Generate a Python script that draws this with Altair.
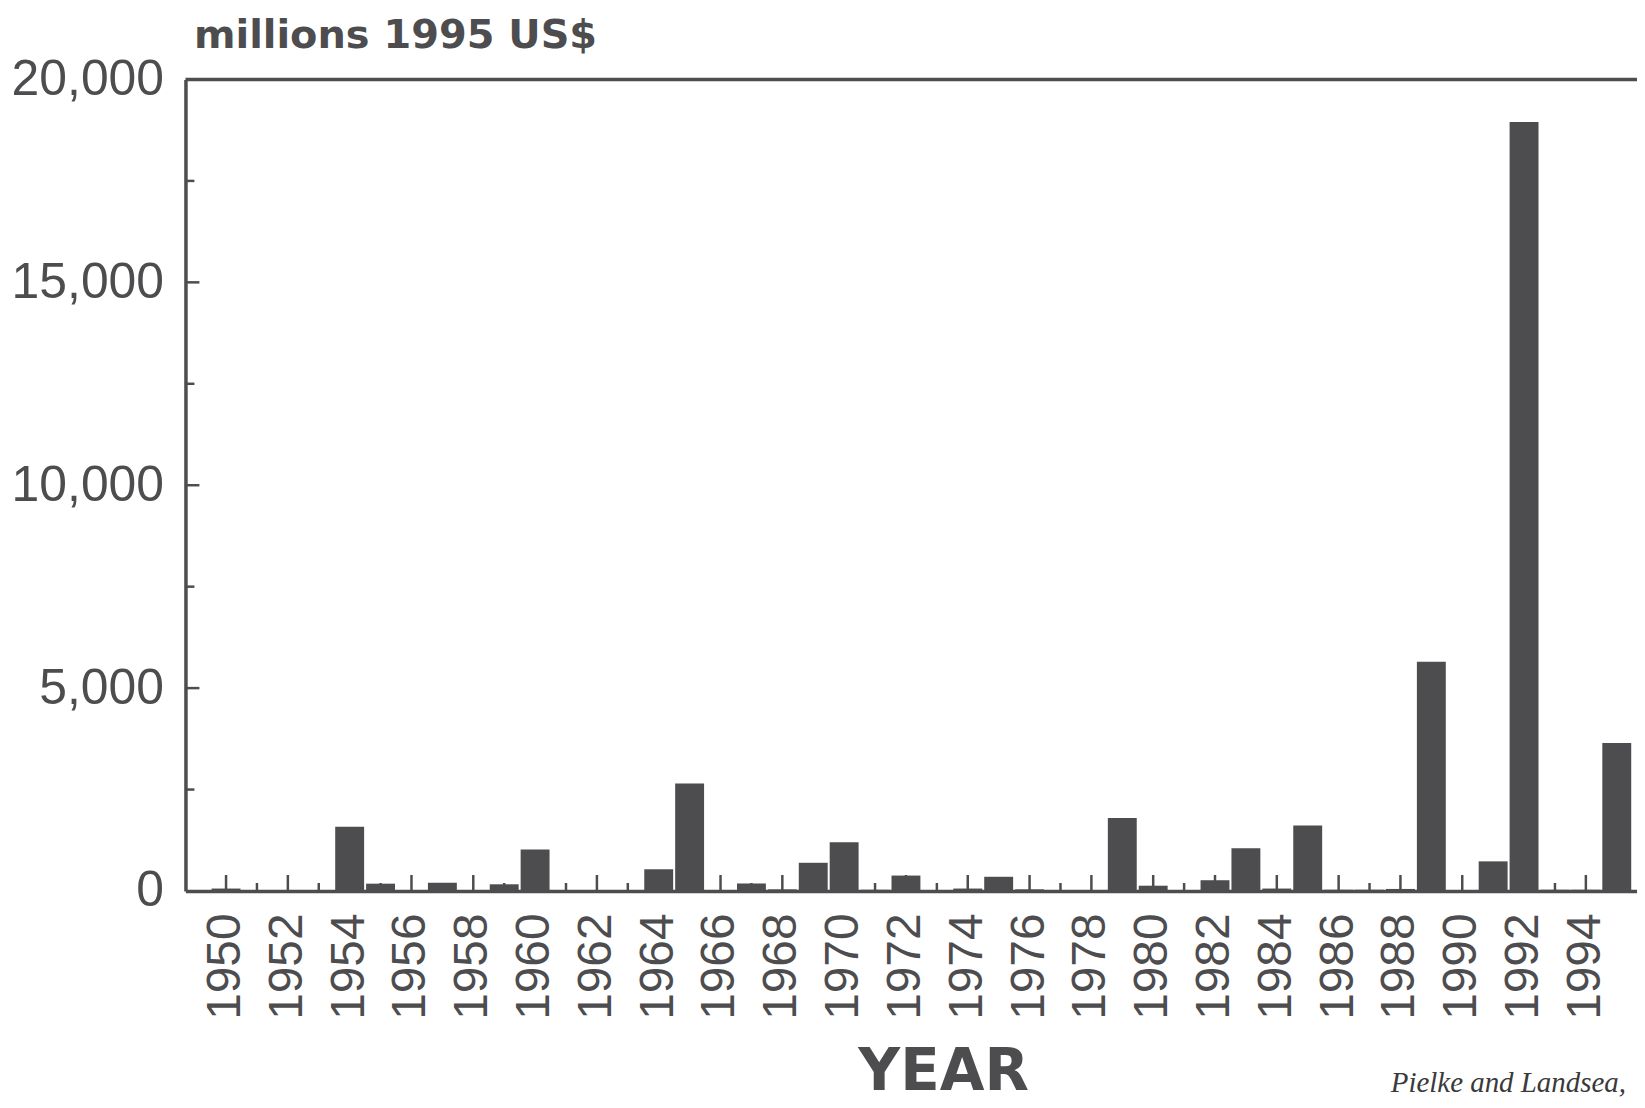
import altair as alt
import pandas as pd

# ---------------- data ----------------
years = list(range(1950, 1996))
damages = [
    60, 10, 10, 10, 1580, 180, 10, 205, 20, 165,        # 1950-1959
    1020, 10, 10, 10, 535, 2650, 20, 185, 40, 695,      # 1960-1969
    1200, 30, 380, 20, 60, 350, 40, 20, 10, 1800,       # 1970-1979
    130, 20, 265, 1050, 60, 1615, 30, 30, 50, 5650,     # 1980-1989
    20, 730, 18950, 30, 30, 3650,                       # 1990-1995
]
y_labels = [0, 5000, 10000, 15000, 20000]
y_major_ticks = [5000, 10000, 15000]
y_minor_ticks = [2500, 7500, 12500, 17500]
x_major_ticks = [y for y in years if y % 2 == 0]
x_minor_ticks = [y for y in years if y % 2 == 1]
y_title = "millions 1995 US$"
x_title = "YEAR"
note = "Pielke and Landsea,"

df = pd.DataFrame({"year": years, "damage": damages})

# ---------------- styling ----------------
W, H = 1456, 814
INK = "#4d4d4f"
FONT = "Liberation Sans"
HEAVY = "DejaVu Sans"

xscale = alt.Scale(domain=years, paddingInner=0.0645, paddingOuter=0.5163,
                   align=0.819, round=False)
yscale = alt.Scale(domain=[0, 20000], nice=False, zero=True)

bars = alt.Chart(df).mark_bar(color=INK).encode(
    x=alt.X("year:O", scale=xscale, axis=alt.Axis(
        title=x_title, titleFont=HEAVY, titleFontSize=58, titleFontWeight="bold",
        titleColor=INK, titleX=760, titleY=199, titleAlign="center",
        titleBaseline="alphabetic", titleAngle=0,
        labelAngle=-90, labelFont=FONT, labelFontSize=48, labelColor=INK,
        labelPadding=22, labelOverlap=False,
        labelExpr="datum.value % 2 == 0 ? datum.label : ''",
        ticks=False, domainColor=INK, domainWidth=3.5, grid=False)),
    y=alt.Y("damage:Q", scale=yscale, axis=alt.Axis(
        values=y_labels, format=",d",
        title=y_title, titleFont=HEAVY, titleFontSize=40, titleFontWeight="bold",
        titleColor=INK, titleAngle=0, titleX=8, titleY=-32, titleAlign="left",
        titleBaseline="alphabetic",
        labelFont=FONT, labelFontSize=50, labelColor=INK, labelPadding=22,
        ticks=False, domainColor=INK, domainWidth=3.5, grid=False)),
)

xt_major = alt.Chart(pd.DataFrame({"year": x_major_ticks})).mark_rule(
    color=INK, strokeWidth=2.5).encode(
    x=alt.X("year:O", scale=xscale), y=alt.value(H), y2=alt.value(H - 16))
xt_minor = alt.Chart(pd.DataFrame({"year": x_minor_ticks})).mark_rule(
    color=INK, strokeWidth=2.5).encode(
    x=alt.X("year:O", scale=xscale), y=alt.value(H), y2=alt.value(H - 8))

yt_major = alt.Chart(pd.DataFrame({"damage": y_major_ticks})).mark_rule(
    color=INK, strokeWidth=2.5).encode(
    y=alt.Y("damage:Q", scale=yscale), x=alt.value(0), x2=alt.value(14))
yt_minor = alt.Chart(pd.DataFrame({"damage": y_minor_ticks})).mark_rule(
    color=INK, strokeWidth=2.5).encode(
    y=alt.Y("damage:Q", scale=yscale), x=alt.value(0), x2=alt.value(9))

top_line = alt.Chart(pd.DataFrame({"damage": [y_labels[-1]]})).mark_rule(
    color=INK, strokeWidth=3.5).encode(y=alt.Y("damage:Q", scale=yscale))

note_layer = alt.Chart(pd.DataFrame({"note": [note]})).mark_text(
    font="Liberation Serif", fontStyle="italic", fontSize=29, color="#3a3a3a",
    align="left", baseline="alphabetic").encode(
    x=alt.value(1209), y=alt.value(1016), text="note:N")

chart = alt.layer(xt_major, xt_minor, yt_major, yt_minor, bars, top_line, note_layer).properties(
    width=W, height=H,
    autosize=alt.AutoSizeParams(type="none"),
    padding={"left": 178, "top": 70, "right": 0, "bottom": 216},
    background="white",
).configure_view(stroke=None)

chart.save("out.html", embed_options={"renderer": "svg", "actions": False})
